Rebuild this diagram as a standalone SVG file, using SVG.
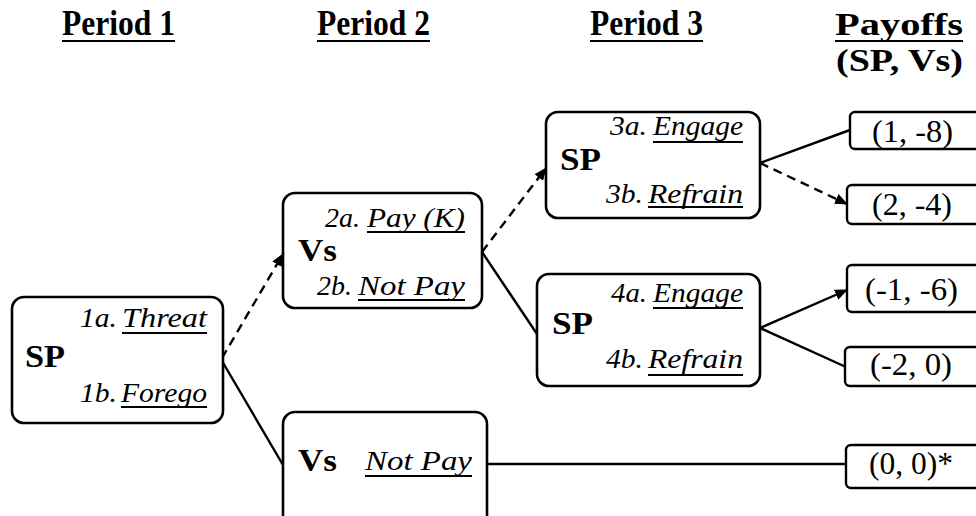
<svg xmlns="http://www.w3.org/2000/svg" width="976" height="516" viewBox="0 0 976 516">
<style>
text{font-family:"Liberation Serif","Times New Roman",Times,serif;fill:#000}
.box{fill:#fff;stroke:#000;stroke-width:2.6}
.pb{fill:#fff;stroke:#000;stroke-width:2.4}
.hd{font-weight:bold;font-size:35px}
.hp{font-weight:bold;font-size:32px}
.pl{font-weight:bold;font-size:31px}
.op{font-style:italic;font-size:28px}
.pay{font-size:31px}
.ul{stroke:#000;stroke-width:2}
.c{fill:none;stroke:#000;stroke-width:2.4}
.d{stroke-dasharray:9 6}
</style>
<defs>
<marker id="ah" viewBox="0 0 12 10" refX="11" refY="5" markerWidth="13" markerHeight="11" markerUnits="userSpaceOnUse" orient="auto">
<path d="M0,0 L12,5 L0,10 z" fill="#000"/>
</marker>
</defs>

<g id="headings">
<text class="hd" x="62" y="35" textLength="113" lengthAdjust="spacingAndGlyphs">Period 1</text>
<line class="ul" x1="62" y1="41" x2="175" y2="41"/>
<text class="hd" x="317" y="35" textLength="113" lengthAdjust="spacingAndGlyphs">Period 2</text>
<line class="ul" x1="317" y1="41" x2="430" y2="41"/>
<text class="hd" x="590" y="35" textLength="113" lengthAdjust="spacingAndGlyphs">Period 3</text>
<line class="ul" x1="590" y1="41" x2="703" y2="41"/>
<text class="hp" x="835" y="35" textLength="128" lengthAdjust="spacingAndGlyphs">Payoffs</text>
<line class="ul" x1="835" y1="41" x2="963" y2="41"/>
<text class="hp" x="836" y="71" textLength="127" lengthAdjust="spacingAndGlyphs">(SP, Vs)</text>
</g>

<g id="connectors">
<line class="c d" x1="222" y1="358" x2="283" y2="254" marker-end="url(#ah)"/>
<line class="c" x1="222" y1="361" x2="283" y2="465"/>
<line class="c d" x1="482" y1="252" x2="546" y2="168" marker-end="url(#ah)"/>
<line class="c" x1="482" y1="252" x2="537" y2="334"/>
<line class="c" x1="760" y1="163" x2="850" y2="130"/>
<line class="c d" x1="760" y1="163" x2="847" y2="204" marker-end="url(#ah)"/>
<line class="c" x1="760" y1="328" x2="847" y2="290" marker-end="url(#ah)"/>
<line class="c" x1="760" y1="328" x2="846" y2="367"/>
<line class="c" x1="487" y1="464" x2="846" y2="464"/>
</g>

<g id="node-p1-sp">
<rect class="box" x="12" y="297" width="211" height="126" rx="12"/>
<text class="pl" x="25" y="367" textLength="40" lengthAdjust="spacingAndGlyphs">SP</text>
<text class="op" x="80" y="327" textLength="37" lengthAdjust="spacingAndGlyphs">1a.</text>
<text class="op" x="122" y="327" textLength="85" lengthAdjust="spacingAndGlyphs">Threat</text>
<line class="ul" x1="122" y1="333" x2="207" y2="333"/>
<text class="op" x="80" y="402" textLength="37" lengthAdjust="spacingAndGlyphs">1b.</text>
<text class="op" x="121" y="402" textLength="86" lengthAdjust="spacingAndGlyphs">Forego</text>
<line class="ul" x1="121" y1="407" x2="207" y2="407"/>
</g>

<g id="node-p2-vs-pay">
<rect class="box" x="283" y="193" width="199" height="115" rx="12"/>
<text class="pl" x="298" y="261" textLength="39" lengthAdjust="spacingAndGlyphs">Vs</text>
<text class="op" x="325" y="227" textLength="35" lengthAdjust="spacingAndGlyphs">2a.</text>
<text class="op" x="367" y="227" textLength="98" lengthAdjust="spacingAndGlyphs">Pay (K)</text>
<line class="ul" x1="367" y1="232" x2="465" y2="232"/>
<text class="op" x="317" y="295" textLength="35" lengthAdjust="spacingAndGlyphs">2b.</text>
<text class="op" x="358" y="295" textLength="107" lengthAdjust="spacingAndGlyphs">Not Pay</text>
<line class="ul" x1="358" y1="300" x2="465" y2="300"/>
</g>

<g id="node-p2-vs-notpay">
<rect class="box" x="283" y="412" width="204" height="130" rx="12"/>
<text class="pl" x="298" y="471" textLength="39" lengthAdjust="spacingAndGlyphs">Vs</text>
<text class="op" x="365" y="470" textLength="107" lengthAdjust="spacingAndGlyphs">Not Pay</text>
<line class="ul" x1="365" y1="476" x2="472" y2="476"/>
</g>

<g id="node-p3-sp-a">
<rect class="box" x="546" y="112" width="214" height="106" rx="12"/>
<text class="pl" x="560" y="170" textLength="41" lengthAdjust="spacingAndGlyphs">SP</text>
<text class="op" x="610" y="135" textLength="37" lengthAdjust="spacingAndGlyphs">3a.</text>
<text class="op" x="653" y="135" textLength="90" lengthAdjust="spacingAndGlyphs">Engage</text>
<line class="ul" x1="653" y1="142" x2="743" y2="142"/>
<text class="op" x="606" y="203" textLength="37" lengthAdjust="spacingAndGlyphs">3b.</text>
<text class="op" x="648" y="203" textLength="95" lengthAdjust="spacingAndGlyphs">Refrain</text>
<line class="ul" x1="648" y1="207" x2="743" y2="207"/>
</g>

<g id="node-p3-sp-b">
<rect class="box" x="537" y="274" width="223" height="112" rx="12"/>
<text class="pl" x="552" y="334" textLength="41" lengthAdjust="spacingAndGlyphs">SP</text>
<text class="op" x="611" y="302" textLength="36" lengthAdjust="spacingAndGlyphs">4a.</text>
<text class="op" x="653" y="302" textLength="90" lengthAdjust="spacingAndGlyphs">Engage</text>
<line class="ul" x1="653" y1="308" x2="743" y2="308"/>
<text class="op" x="606" y="368" textLength="37" lengthAdjust="spacingAndGlyphs">4b.</text>
<text class="op" x="648" y="368" textLength="95" lengthAdjust="spacingAndGlyphs">Refrain</text>
<line class="ul" x1="648" y1="375" x2="743" y2="375"/>
</g>

<g id="payoff-1">
<rect class="pb" x="850" y="112" width="140" height="37" rx="5"/>
<text class="pay" x="872" y="142" textLength="81" lengthAdjust="spacingAndGlyphs">(1, -8)</text>
</g>
<g id="payoff-2">
<rect class="pb" x="847" y="185" width="140" height="39" rx="5"/>
<text class="pay" x="872" y="215" textLength="80" lengthAdjust="spacingAndGlyphs">(2, -4)</text>
</g>
<g id="payoff-3">
<rect class="pb" x="847" y="265" width="140" height="47" rx="5"/>
<text class="pay" x="865" y="300" textLength="93" lengthAdjust="spacingAndGlyphs">(-1, -6)</text>
</g>
<g id="payoff-4">
<rect class="pb" x="845" y="347" width="140" height="39" rx="5"/>
<text class="pay" x="870" y="375" textLength="82" lengthAdjust="spacingAndGlyphs">(-2, 0)</text>
</g>
<g id="payoff-5">
<rect class="pb" x="846" y="445" width="140" height="43" rx="5"/>
<text class="pay" x="869" y="474" textLength="84" lengthAdjust="spacingAndGlyphs">(0, 0)*</text>
</g>
</svg>
